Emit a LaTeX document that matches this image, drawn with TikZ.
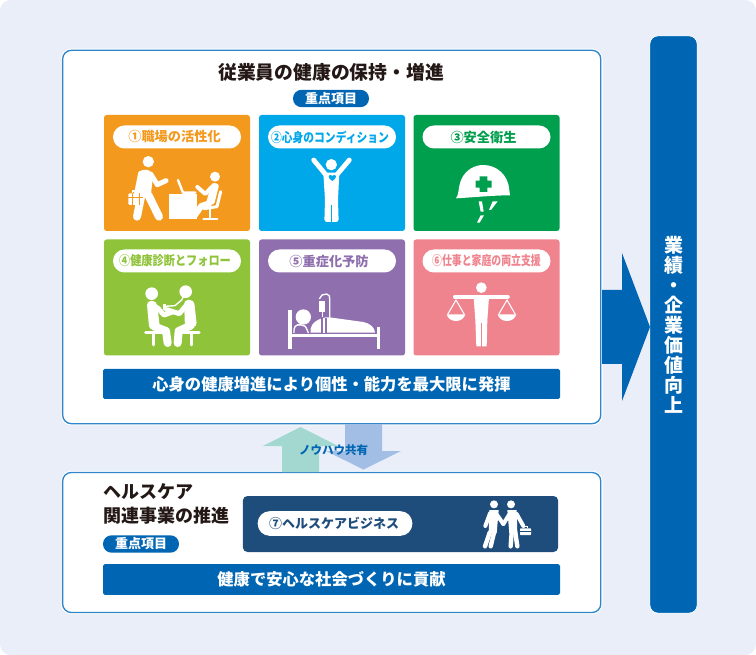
\documentclass[tikz,border=0pt]{standalone}
\usepackage{graphicx}
\usepackage{fontspec}
\setmainfont{Noto Sans CJK JP}
\usetikzlibrary{calc}
\definecolor{pagebg}{HTML}{E9EEF9}
\definecolor{edgeblue}{HTML}{2F86CB}
\definecolor{barblue}{HTML}{0066B3}
\definecolor{navy}{HTML}{1E4C7B}
\definecolor{corange}{HTML}{F39A1E}
\definecolor{cblue}{HTML}{00A7E9}
\definecolor{cgreen}{HTML}{009F4D}
\definecolor{clime}{HTML}{8FC33A}
\definecolor{cpurple}{HTML}{8F6FAE}
\definecolor{cpink}{HTML}{F0848E}
\definecolor{upteal}{HTML}{A3D8D0}
\definecolor{downblue}{HTML}{A3BEE4}
\definecolor{inkgray}{HTML}{231815}
\newcommand{\fpx}[1]{\fontsize{\dimexpr#1pt*3/4\relax}{\dimexpr#1pt*9/10\relax}\selectfont\bfseries}
\tikzset{
  panel/.style={rectangle,draw=edgeblue,line width=1pt,fill=white,rounded corners=6.5pt,inner sep=0pt,
     preaction={draw=white,line width=2.6pt}},
  card/.style={rectangle,rounded corners=2pt,inner sep=0pt,minimum width=109.5pt,minimum height=87pt},
  pill/.style={rectangle,rounded corners=8.6pt,fill=white,inner sep=0pt,minimum width=96pt,minimum height=17.25pt},
  band/.style={rectangle,fill=barblue,rounded corners=1.2pt,inner sep=0pt,text=white,minimum width=342.75pt,font=\fpx{16.3}},
  badge/.style={rectangle,fill=barblue,rounded corners=6.4pt,inner sep=0pt,text=white,minimum width=57pt,minimum height=13pt,font=\fpx{13}},
  ic/.style={draw=white,line width=#1*0.75pt,line cap=round,line join=round},
  ic/.default=4,
  iconscope/.style={x=0.25pt,y=-0.25pt}
}
\begin{document}
\begin{tikzpicture}[x=0.75pt,y=-0.75pt]
\useasboundingbox (0,0) rectangle (756,655);
\fill[pagebg,rounded corners=8pt] (0,0) rectangle (756,655);

% panels
\node[panel,minimum width=403.6pt,minimum height=280pt] (top) at (331.7,237) {};
\node[panel,minimum width=403.6pt,minimum height=105pt] (low) at (331.7,542.5) {};

% exchange arrows
\fill[upteal] (282,472) -- (282,446) -- (263,446) -- (300.5,427) -- (338,446) -- (319,446) -- (319,472) -- cycle;
\fill[downblue] (345,424) -- (345,451) -- (326,451) -- (363.5,469.5) -- (401,451) -- (382,451) -- (382,424) -- cycle;
\node[inner sep=0pt,text=barblue,font=\fpx{11.5}] (share) at (333.5,450) {ノウハウ共有};

% right column and big arrow
\node[rectangle,fill=barblue,draw=white,line width=.6pt,rounded corners=6pt,inner sep=0pt,minimum width=35.5pt,minimum height=433pt] (col) at (673.5,324.5) {};
\fill[barblue] (602,290) -- (622,290) -- (622,253) -- (650,327) -- (622,401) -- (622,364) -- (602,364) -- cycle;
\node[inner sep=0pt,text=white,align=center,font=\fontsize{14.25pt}{15pt}\selectfont\bfseries] (coltext) at (673.5,325) {業\\績\\・\\企\\業\\価\\値\\向\\上};

% headings
\node[inner sep=0pt,text=inkgray,font=\fpx{18.8}] (title) at (331,72) {従業員の健康の保持・増進};
\node[badge] (b1) at (331,98.5) {重点項目};

% cards
\node[card,fill=corange] (c1) at (177,173) {};
\node[card,fill=cblue]   (c2) at (332,173) {};
\node[card,fill=cgreen]  (c3) at (486.5,173) {};
\node[card,fill=clime]   (c4) at (177,297.5) {};
\node[card,fill=cpurple] (c5) at (332,297.5) {};
\node[card,fill=cpink]   (c6) at (486.5,297.5) {};

% pills
\node[pill] (p1) at (177,137) {};
\node[inner sep=0pt,text=corange,font=\fpx{13.2}] (t1) at (174.5,137) {①職場の活性化};
\node[pill] (p2) at (332,137) {};
\node[inner sep=0pt,text=cblue,font=\fpx{13}] (t2) at (330,137) {\scalebox{0.83}[1]{②心身のコンディション}};
\node[pill] (p3) at (486.5,137) {};
\node[inner sep=0pt,text=cgreen,font=\fpx{13.2}] (t3) at (483.5,137) {③安全衛生};
\node[pill] (p4) at (177,261) {};
\node[inner sep=0pt,text=clime,font=\fpx{13}] (t4) at (175,261) {\scalebox{0.86}[1]{④健康診断とフォロー}};
\node[pill] (p5) at (332,261) {};
\node[inner sep=0pt,text=cpurple,font=\fpx{13.2}] (t5) at (329,261) {⑤重症化予防};
\node[pill] (p6) at (486.5,261) {};
\node[inner sep=0pt,text=cpink,font=\fpx{13}] (t6) at (486.5,261) {\scalebox{0.76}[1]{⑥仕事と家庭の両立支援}};

% bands
\node[band,minimum height=22.5pt] (band1) at (331.5,384) {心身の健康増進により個性・能力を最大限に発揮};
\node[band,minimum height=23pt] (band2) at (331.5,579.5) {健康で安心な社会づくりに貢献};

% lower panel contents
\node[inner sep=0pt,anchor=west,text=inkgray,font=\fpx{18}] (lowa) at (103.5,492) {ヘルスケア};
\node[inner sep=0pt,anchor=west,text=inkgray,font=\fpx{18}] (lowb) at (103.5,516) {関連事業の推進};
\node[badge] (b2) at (141,544) {重点項目};
\node[rectangle,fill=navy,rounded corners=3.5pt,inner sep=0pt,minimum width=236.5pt,minimum height=42pt] (biz) at (400.5,524) {};
\node[rectangle,rounded corners=9pt,fill=white,inner sep=0pt,minimum width=116pt,minimum height=18.5pt] (p7) at (335,523.5) {};
\node[inner sep=0pt,text=navy,font=\fpx{13}] (t7) at (334,523.5) {⑦ヘルスケアビジネス};

% ---- icon 1
\begin{scope}[shift={(100,110)},iconscope]
\fill[white] (145,155) circle (17);
\fill[white,rounded corners=2pt] (120,180) -- (150,180) -- (158,205) -- (152,262) -- (118,262) -- cycle;
\draw[ic=8] (124,255) -- (111,320);
\draw[ic=8] (145,255) -- (177,320);
\draw[ic=5] (152,192) -- (172,224) -- (198,212);
\draw[ic=5] (122,190) -- (110,250);
\fill[white,rounded corners=1pt] (85,250) rectangle (130,285);
\draw[corange,line width=.5pt] (85,263) -- (130,263);
\draw[corange,line width=.5pt] (98,250) -- (98,285);
\draw[corange,line width=.5pt] (118,250) -- (118,285);
\draw[white,line width=.8pt] (98,250) -- (98,243) -- (117,243) -- (117,250);
\fill[white] (208,252) rectangle (290,328);
\draw[ic=2.4] (234,210) -- (249,248) -- (286,248);
\fill[white] (345,200) circle (15);
\fill[white,rounded corners=2pt] (335,218) -- (358,222) -- (342,285) -- (318,280) -- cycle;
\draw[ic=6] (328,280) -- (304,288) -- (285,315);
\draw[ic=4] (334,232) -- (316,252) -- (292,231);
\draw[ic=3] (362,245) -- (351,290) -- (312,296);
\draw[ic=1.8] (331,296) -- (331,323);
\draw[ic=1.8] (310,326) -- (352,326);
\end{scope}

% ---- icon 2
\begin{scope}[shift={(290,150)},iconscope]
\fill[white] (124,44) circle (17);
\fill[white,rounded corners=2pt] (100,68) -- (148,68) -- (144,150) -- (146,216) -- (103,216) -- (105,150) -- cycle;
\draw[ic=4.8] (71,30) -- (108,75);
\draw[ic=4.8] (178,30) -- (140,75);
\draw[cblue,line width=.7pt] (124,165) -- (124,218);
\fill[cblue] (127,93) .. controls (118,86) and (115,82) .. (116,78) .. controls (118,73) and (125,74) .. (127,78)
   .. controls (129,74) and (136,73) .. (138,78) .. controls (139,82) and (136,86) .. (127,93) -- cycle;
\end{scope}

% ---- icon 3
\begin{scope}[shift={(330,110)},iconscope]
\fill[white] (378,265) .. controls (388,252) and (383,235) .. (394,208)
  .. controls (408,178) and (435,165) .. (460,165)
  .. controls (500,165) and (535,195) .. (538,240) -- (540,256)
  .. controls (490,256) and (430,262) .. (378,265) -- cycle;
\fill[cgreen] (449,199) -- (472,199) -- (472,212) -- (485,212) -- (485,233) -- (472,233) -- (472,246) -- (449,246) -- (449,233) -- (437,233) -- (437,212) -- (449,212) -- cycle;
\fill[white] (446,274) -- (456,274) -- (461,305) -- (452,305) -- cycle;
\fill[white] (488,274) -- (503,274) -- (483,300) -- (477,300) -- cycle;
\fill[white] (452,316) -- (462,316) -- (449,338) -- (441,338) -- cycle;
\end{scope}

% ---- icon 4
\begin{scope}[shift={(100,235)},iconscope]
\fill[white] (155,176) circle (19);
\fill[white,rounded corners=3pt] (140,198) -- (170,198) -- (180,280) -- (148,285) -- cycle;
\draw[ic=8] (162,274) -- (198,288) -- (203,324);
\draw[ic=5] (172,218) -- (192,240) -- (215,232);
\fill[white] (190,207) rectangle (198,225);
\draw[ic=1.4] (195,214) -- (225,212) -- (245,195) -- (255,175);
\fill[white] (257,170) circle (19);
\fill[white,rounded corners=3pt] (252,195) -- (282,195) -- (291,275) -- (255,280) -- cycle;
\draw[ic=8] (272,272) -- (236,288) -- (233,324);
\draw[ic=5] (256,214) -- (238,236) -- (200,224);
\draw[ic=3.2] (137,293) -- (188,293);
\draw[ic=2.8] (161,295) -- (161,330);
\draw[ic=3.2] (250,293) -- (297,293);
\draw[ic=2.8] (275,295) -- (275,330);
\end{scope}

% ---- icon 5
\begin{scope}[shift={(280,285)},iconscope]
\draw[white,line width=2.4pt] (30,75) -- (30,191);
\draw[white,line width=2.4pt] (296,125) -- (296,191);
\draw[white,line width=2.2pt] (30,152) -- (296,152);
\fill[white] (70,96) circle (23);
\draw[white,line width=1pt,rounded corners=3pt] (42,144) -- (42,121) -- (64,118) .. controls (76,124) and (82,134) .. (85,144);
\fill[white] (92,143) .. controls (88,125) and (100,108) .. (126,100)
  .. controls (140,94) and (155,98) .. (170,100) -- (250,111)
  .. controls (270,115) and (285,128) .. (285,143) -- cycle;
\fill[cpurple] (124,98) rectangle (140,143);
\fill[white] (129,100) rectangle (135,143);
\fill[white] (118,47) rectangle (135,80);
\draw[white,line width=.9pt] (127,80) -- (127,96);
\draw[white,line width=1pt] (118,42) -- (126,30) -- (140,27) .. controls (148,28) and (149,34) .. (149,44) -- (149,98);
\end{scope}

% ---- icon 6
\begin{scope}[shift={(330,235)},iconscope]
\fill[white] (454,158) circle (16);
\draw[ic=4.2] (375,185) -- (533,185);
\fill[white] (431,187) -- (477,187) -- (472,255) -- (470,334) -- (439,334) -- (436,255) -- cycle;
\draw[cpink,line width=.7pt] (454,265) -- (454,336);
\draw[white,line width=.8pt,line join=round] (353,238) -- (378,195) -- (403,238);
\fill[white] (350,238) -- (406,238) .. controls (402,252) and (390,258) .. (378,258) .. controls (366,258) and (354,252) .. (350,238) -- cycle;
\draw[white,line width=.8pt,line join=round] (506,238) -- (531,195) -- (556,238);
\fill[white] (503,238) -- (559,238) .. controls (555,252) and (543,258) .. (531,258) .. controls (519,258) and (507,252) .. (503,238) -- cycle;
\end{scope}

% ---- icon 7
\begin{scope}[shift={(240,420)},iconscope]
\fill[white] (762,253) circle (12);
\fill[white] (813,253) circle (12);
\fill[white] (748,270) -- (776,270) -- (770,340) -- (746,340) -- cycle;
\fill[white] (802,270) -- (830,270) -- (832,340) -- (808,340) -- cycle;
\draw[ic=4.4] (749,338) -- (735,379);
\draw[ic=4.4] (762,338) -- (752,379);
\draw[ic=4.4] (815,338) -- (812,379);
\draw[ic=4.4] (826,338) -- (832,379);
\draw[ic=4] (750,280) -- (736,318);
\draw[ic=4] (770,283) -- (790,312);
\draw[ic=4] (808,283) -- (790,312);
\draw[ic=4] (830,282) -- (850,318);
\fill[white,rounded corners=.5pt] (840,325) rectangle (873,345);
\draw[navy,line width=.4pt] (840,335) -- (873,335);
\draw[white,line width=.6pt] (850,325) -- (850,319) -- (863,319) -- (863,325);
\end{scope}
\end{tikzpicture}
\end{document}
